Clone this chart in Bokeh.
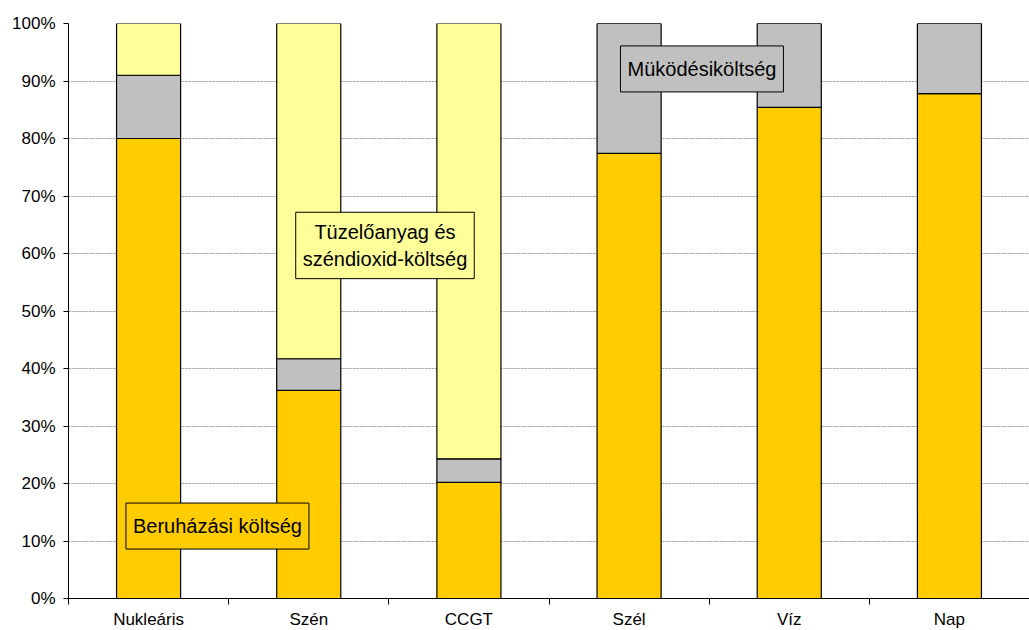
from bokeh.plotting import figure
from bokeh.models import FixedTicker, NumeralTickFormatter, Label, Range1d
from bokeh.embed import file_html
from bokeh.resources import INLINE

categories = ["Nukleáris", "Szén", "CCGT", "Szél", "Víz", "Nap"]
beruhazasi = [0.80, 0.362, 0.202, 0.774, 0.854, 0.878]
mukodesi = [0.11, 0.055, 0.041, 0.226, 0.146, 0.122]
tuzeloanyag = [0.09, 0.583, 0.757, 0.0, 0.0, 0.0]
y_ticks = [0.0, 0.1, 0.2, 0.3, 0.4, 0.5, 0.6, 0.7, 0.8, 0.9, 1.0]

series = [("beruhazasi", beruhazasi, "#FFCC00"),
          ("mukodesi", mukodesi, "#C0C0C0"),
          ("tuzeloanyag", tuzeloanyag, "#FFFF99")]

xs = [i + 0.5 for i in range(len(categories))]
font = "Liberation Sans"

p = figure(frame_width=961, frame_height=575, output_backend="svg", toolbar_location=None,
           x_range=Range1d(0, len(categories)), y_range=Range1d(0, 1),
           min_border_left=68, min_border_top=23, min_border_right=0, min_border_bottom=0)
p.outline_line_color = None
p.background_fill_color = "white"
p.border_fill_color = "white"

bottom = [0.0] * len(categories)
for name, vals, color in series:
    top = [b + v for b, v in zip(bottom, vals)]
    p.vbar(x=xs, width=0.4, bottom=bottom, top=top, fill_color=color,
           line_color="black", line_width=1.2)
    bottom = top

# y axis
p.yaxis.ticker = FixedTicker(ticks=y_ticks)
p.yaxis.formatter = NumeralTickFormatter(format="0%")
p.yaxis.major_label_text_font = font
p.yaxis.major_label_text_font_size = "17px"
p.yaxis.major_label_text_color = "black"
p.yaxis.axis_line_color = "black"
p.yaxis.major_tick_line_color = "black"
p.yaxis.major_tick_out = 5
p.yaxis.major_tick_in = 0
p.yaxis.minor_tick_line_color = None
p.yaxis.major_label_standoff = 8

# x axis
p.xaxis.ticker = FixedTicker(ticks=xs, minor_ticks=list(range(len(categories) + 1)))
p.xaxis.major_label_overrides = {x: c for x, c in zip(xs, categories)}
p.xaxis.major_label_text_font = font
p.xaxis.major_label_text_font_size = "17px"
p.xaxis.major_label_text_color = "black"
p.xaxis.axis_line_color = "black"
p.xaxis.major_tick_line_color = None
p.xaxis.minor_tick_line_color = "black"
p.xaxis.minor_tick_out = 6
p.xaxis.minor_tick_in = 0
p.xaxis.major_label_standoff = 5

p.xgrid.grid_line_color = None
p.ygrid.ticker = FixedTicker(ticks=y_ticks)
p.ygrid.grid_line_color = "#999999"
p.ygrid.grid_line_dash = "2 1"
p.ygrid.grid_line_width = 1

labels = [
    ("Beruházási költség", 0.93, 0.126, "#FFCC00", 12),
    ("Tüzelőanyag és\nszéndioxid-költség", 1.976, 0.614, "#FFFF99", 9),
    ("Müködésiköltség", 3.955, 0.921, "#C0C0C0", 12),
]
for txt, lx, ly, bg, pady in labels:
    p.add_layout(Label(x=lx, y=ly, text=txt, text_align="center", text_baseline="middle",
                       text_font=font, text_font_size="20px", text_color="black",
                       background_fill_color=bg, border_line_color="black",
                       border_line_width=1, padding=dict(x=7, y=pady)))

open("out.html", "w").write(file_html(p, INLINE))
